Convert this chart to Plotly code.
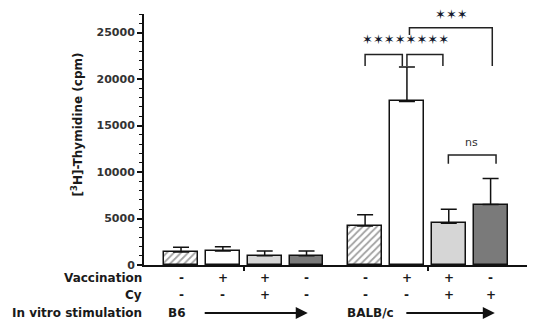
import plotly.graph_objects as go

# ---- data ----
positions = [0, 1, 2, 3, 4.4, 5.4, 6.4, 7.4]
values = [1400, 1500, 1000, 1000, 4200, 17600, 4500, 6500]
errors = [500, 450, 500, 500, 1200, 3700, 1500, 2800]
fills = ["white", "white", "#d6d6d6", "#7a7a7a", "white", "white", "#d6d6d6", "#7a7a7a"]
patterns = ["/", "", "", "", "/", "", "", ""]
vaccination = ["-", "+", "+", "-", "-", "+", "+", "-"]
cy = ["-", "-", "+", "-", "-", "-", "+", "+"]
groups = ["B6", "BALB/c"]
group_label_x = [-0.36, 3.92]
arrow_tail_x = [0.53, 5.35]
arrow_head_x = [3.03, 7.5]
row_labels = ["Vaccination", "Cy", "In vitro stimulation"]
y_ticks = [0, 5000, 10000, 15000, 20000, 25000]
y_ticktext = ["0", "5000", "10000", "15000", "20000", "25000"]

FONT = "DejaVu Sans, sans-serif"
TXT = "#1a1a1a"

fig = go.Figure()
fig.add_trace(go.Bar(
    x=positions, y=values, width=0.81,
    marker=dict(color=fills, line=dict(color="#111", width=1.5),
                pattern=dict(shape=patterns, fgcolor="#222", bgcolor="white",
                             size=5, solidity=0.35)),
    error_y=dict(type="data", symmetric=False, array=errors,
                 arrayminus=[0]*len(errors), color="#111", thickness=1.5, width=8),
    showlegend=False, hoverinfo="skip",
))

# significance brackets (data coords)
def bracket(x0, x1, ytop, yl, yr, c="#222"):
    fig.add_shape(type="path",
                  path=f"M {x0},{yl} L {x0},{ytop} L {x1},{ytop} L {x1},{yr}",
                  xref="x", yref="y", line=dict(color=c, width=1.5))

bracket(4.4, 5.29, 22650, 21400, 21400)
bracket(5.40, 6.26, 22650, 21400, 21400)
bracket(5.46, 7.44, 25530, 24740, 21400)
bracket(6.39, 7.53, 11830, 10900, 10900)

star_font = dict(family="DejaVu Sans", size=13, color="#141a2e")
fig.add_annotation(x=5.37, y=24280, xref="x", yref="y", text="✶✶✶✶✶✶✶✶",
                   showarrow=False, font=star_font)
fig.add_annotation(x=6.46, y=27000, xref="x", yref="y", text="✶✶✶",
                   showarrow=False, font=star_font)
fig.add_annotation(x=6.95, y=13200, xref="x", yref="y", text="ns",
                   showarrow=False, font=dict(family=FONT, size=11, color="#333"))

# table below axis
row_y = [-0.0506, -0.1207, -0.1912]
for lab, yy in zip(row_labels, row_y):
    fig.add_annotation(x=-0.001, y=yy, xref="paper", yref="paper", text=f"<b>{lab}</b>",
                       xanchor="right", yanchor="middle", showarrow=False,
                       font=dict(family=FONT, size=12, color=TXT))
for xp, v, c in zip(positions, vaccination, cy):
    fig.add_annotation(x=xp, y=row_y[0], xref="x", yref="paper", text=f"<b>{v}</b>",
                       yanchor="middle", showarrow=False,
                       font=dict(family=FONT, size=12, color=TXT))
    fig.add_annotation(x=xp, y=row_y[1], xref="x", yref="paper", text=f"<b>{c}</b>",
                       yanchor="middle", showarrow=False,
                       font=dict(family=FONT, size=12, color=TXT))
for g, gx, tx, hx in zip(groups, group_label_x, arrow_tail_x, arrow_head_x):
    fig.add_annotation(x=gx, y=row_y[2], xref="x", yref="paper", text=f"<b>{g}</b>",
                       xanchor="left", yanchor="middle", showarrow=False,
                       font=dict(family=FONT, size=12, color=TXT))
    fig.add_annotation(x=hx, y=row_y[2], xref="x", yref="paper", ax=tx, ay=0,
                       axref="x", ayref="pixel", text="", showarrow=True,
                       arrowhead=2, arrowsize=1.2, arrowwidth=2, arrowcolor="#111")

# y-axis title
fig.add_annotation(x=-0.175, y=0.56, xref="paper", yref="paper",
                   xanchor="center", yanchor="middle",
                   text="<b>[<sup>3</sup>H]-Thymidine (cpm)</b>", textangle=-90,
                   showarrow=False, font=dict(family=FONT, size=12, color=TXT))

# page body has an 8px default margin, so the figure is drawn 8px smaller and offset
fig.update_layout(
    width=528, height=326, margin=dict(l=136, r=9, t=6, b=69),
    paper_bgcolor="white", plot_bgcolor="white", bargap=0,
    xaxis=dict(range=[-0.885, 8.27], showgrid=False, zeroline=False, showline=True,
               linecolor="#111", linewidth=2, ticks="outside", tickvals=[1.5, 5.9],
               ticktext=["", ""], ticklen=4, tickwidth=1.5, tickcolor="#111"),
    yaxis=dict(range=[0, 27000], showgrid=False, zeroline=False, showline=True,
               linecolor="#111", linewidth=2, ticks="outside", tickvals=y_ticks,
               ticktext=y_ticktext, ticklen=5, tickwidth=1.5, tickcolor="#111",
               tickfont=dict(family=FONT, size=11, color="#333", weight="bold"),
               minor=dict(dtick=1000, ticks="outside", ticklen=3, tickwidth=1, tickcolor="#111")),
)
fig.write_html("out.html")
